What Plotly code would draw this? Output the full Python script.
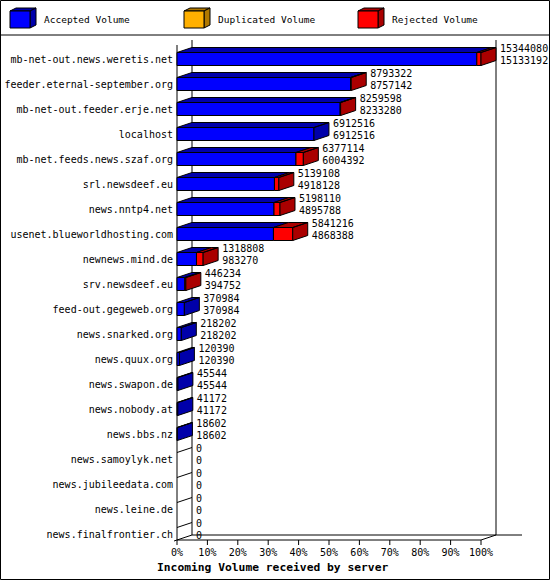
import plotly.graph_objects as go

# ---------------- data ----------------
servers = [
    "mb-net-out.news.weretis.net",
    "feeder.eternal-september.org",
    "mb-net-out.feeder.erje.net",
    "localhost",
    "mb-net.feeds.news.szaf.org",
    "srl.newsdeef.eu",
    "news.nntp4.net",
    "usenet.blueworldhosting.com",
    "newnews.mind.de",
    "srv.newsdeef.eu",
    "feed-out.gegeweb.org",
    "news.snarked.org",
    "news.quux.org",
    "news.swapon.de",
    "news.nobody.at",
    "news.bbs.nz",
    "news.samoylyk.net",
    "news.jubileedata.com",
    "news.leine.de",
    "news.finalfrontier.ch",
]
total_volume = [15344080, 8793322, 8259598, 6912516, 6377114, 5139108, 5198110,
                5841216, 1318808, 446234, 370984, 218202, 120390, 45544, 41172,
                18602, 0, 0, 0, 0]
accepted_volume = [15133192, 8757142, 8233280, 6912516, 6004392, 4918128, 4895788,
                   4868388, 983270, 394752, 370984, 218202, 120390, 45544, 41172,
                   18602, 0, 0, 0, 0]
duplicated_volume = [0, 0, 0, 0, 0, 0, 0, 0, 0, 0, 0, 0, 0, 0, 0, 0, 0, 0, 0, 0]

tick_pcts = [0, 10, 20, 30, 40, 50, 60, 70, 80, 90, 100]
tick_labels = ["0%", "10%", "20%", "30%", "40%", "50%", "60%", "70%", "80%", "90%", "100%"]

series_names = ["Accepted Volume", "Duplicated Volume", "Rejected Volume"]
front_colors = ["#0000FF", "#FFB000", "#FF0000"]
dark_colors = ["#0000AA", "#B07800", "#AA0000"]

axis_title = "Incoming Volume received by server"

# ---------------- geometry (pixels -> axis units) ----------------
W, H = 550, 580
PLOT_L, PLOT_R, PLOT_T, PLOT_B = 174, 540, 36, 545
X0_PX, PX_PER_PCT = 177, 3.04
ROW0_PX, ROW_PX = 59, 25
DEPTH_X_PX, DEPTH_Y_PX, BAR_H_PX = 15, 5, 13

x_range = [(PLOT_L - X0_PX) / PX_PER_PCT, (PLOT_R - X0_PX) / PX_PER_PCT]
y_range = [(PLOT_B - ROW0_PX) / ROW_PX, (PLOT_T - ROW0_PX) / ROW_PX]
DX = DEPTH_X_PX / PX_PER_PCT
DY = DEPTH_Y_PX / ROW_PX
HH = BAR_H_PX / 2 / ROW_PX
floor_front = (540 - ROW0_PX) / ROW_PX
floor_back = floor_front - DY
wall_top_back = (40 - ROW0_PX) / ROW_PX
wall_top_front = wall_top_back + DY
floor_right_end = (522 - X0_PX) / PX_PER_PCT

FONT = "DejaVu Sans Mono"

scale = 100.0 / max(total_volume)
rows = list(range(len(servers)))

bar_x = [[], [], []]
bar_base = [[], [], []]
face_x = [[], [], []]
face_y = [[], [], []]
zero_x, zero_y = [], []

for i in rows:
    a = accepted_volume[i] * scale
    d = duplicated_volume[i] * scale
    t = total_volume[i] * scale
    top = i - HH
    bot = i + HH
    segs = [(0.0, a), (a, a + d), (a + d, t)]
    last = None
    for k, (x0, x1) in enumerate(segs):
        if x1 - x0 > 0:
            bar_x[k].append(x1 - x0)
            bar_base[k].append(x0)
            face_x[k] += [x0, x1, x1 + DX, x0 + DX, x0, None]
            face_y[k] += [top, top, top - DY, top - DY, top, None]
            last = k
        else:
            bar_x[k].append(None)
            bar_base[k].append(None)
    if last is None:
        zero_x += [0, DX, None]
        zero_y += [top, top - DY, None]
    else:
        face_x[last] += [t, t + DX, t + DX, t, t, None]
        face_y[last] += [top, top - DY, bot - DY, bot, top, None]

fig = go.Figure()

for k in range(3):
    fig.add_trace(go.Bar(
        y=rows, x=bar_x[k], base=bar_base[k], orientation="h", width=2 * HH,
        marker=dict(color=front_colors[k], line=dict(color="black", width=1)),
        name=series_names[k], showlegend=False, hoverinfo="skip"))

for k in range(3):
    if face_x[k]:
        fig.add_trace(go.Scatter(
            x=face_x[k], y=face_y[k], mode="lines", fill="toself",
            fillcolor=dark_colors[k], line=dict(color="black", width=1),
            showlegend=False, hoverinfo="skip"))

fig.add_trace(go.Scatter(x=zero_x, y=zero_y, mode="lines",
                         line=dict(color="black", width=1),
                         showlegend=False, hoverinfo="skip"))

label_x = [v * scale + DX + 4.0 / PX_PER_PCT for v in total_volume]
fig.add_trace(go.Scatter(
    x=label_x, y=[i - 0.38 for i in rows], mode="text",
    text=[str(v) for v in total_volume], textposition="middle right",
    textfont=dict(family=FONT, size=10, color="black"), cliponaxis=False,
    showlegend=False, hoverinfo="skip"))
fig.add_trace(go.Scatter(
    x=label_x, y=[i + 0.08 for i in rows], mode="text",
    text=[str(v) for v in accepted_volume], textposition="middle right",
    textfont=dict(family=FONT, size=10, color="black"), cliponaxis=False,
    showlegend=False, hoverinfo="skip"))

# ---------------- frame lines (axis units) ----------------
shapes = []
line = dict(color="black", width=1)
shapes.append(dict(type="line", xref="x", yref="y", x0=DX, x1=DX,
                   y0=wall_top_back, y1=floor_back, line=line, layer="below"))
shapes.append(dict(type="line", xref="x", yref="y", x0=0, x1=0,
                   y0=wall_top_front, y1=floor_front, line=line, layer="below"))
shapes.append(dict(type="line", xref="x", yref="y", x0=100 + DX, x1=100 + DX,
                   y0=wall_top_back, y1=floor_back, line=line, layer="below"))
shapes.append(dict(type="line", xref="x", yref="y", x0=DX, x1=floor_right_end,
                   y0=floor_back, y1=floor_back, line=line, layer="below"))
shapes.append(dict(type="line", xref="x", yref="y", x0=0, x1=100,
                   y0=floor_front, y1=floor_front, line=line, layer="below"))
ext = x_range[0]
shapes.append(dict(type="line", xref="x", yref="y", x0=ext, x1=DX,
                   y0=floor_front - DY * ext / DX, y1=floor_back, line=line, layer="below"))
shapes.append(dict(type="line", xref="x", yref="y", x0=100, x1=100 + DX,
                   y0=floor_front, y1=floor_back, line=line, layer="below"))
for p in tick_pcts:
    shapes.append(dict(type="line", xref="x", yref="y", x0=p, x1=p,
                       y0=floor_front, y1=floor_front + 5.0 / ROW_PX, line=line,
                       layer="below"))

# ---------------- legend + border (paper units from pixels) ----------------
def pxx(x):
    return (x - PLOT_L) / (PLOT_R - PLOT_L)


def pxy(y):
    return (PLOT_B - y) / (PLOT_B - PLOT_T)


def path(pts):
    return "M " + " L ".join(f"{pxx(x)},{pxy(y)}" for x, y in pts) + " Z"


shapes.append(dict(type="rect", xref="paper", yref="paper",
                   x0=pxx(0.5), x1=pxx(549.5), y0=pxy(0.5), y1=pxy(579.5),
                   line=dict(color="black", width=1)))
shapes.append(dict(type="line", xref="paper", yref="paper",
                   x0=pxx(0), x1=pxx(550), y0=pxy(35), y1=pxy(35),
                   line=dict(color="black", width=1)))

annotations = []
legend_x = [10, 184, 358]
for k in range(3):
    lx = legend_x[k]
    shapes.append(dict(type="path", xref="paper", yref="paper",
                       path=path([(lx, 11), (lx + 20, 11), (lx + 26, 8), (lx + 6, 8)]),
                       fillcolor=dark_colors[k], line=dict(color="black", width=1)))
    shapes.append(dict(type="path", xref="paper", yref="paper",
                       path=path([(lx + 20, 11), (lx + 26, 8), (lx + 26, 25), (lx + 20, 28)]),
                       fillcolor=dark_colors[k], line=dict(color="black", width=1)))
    shapes.append(dict(type="rect", xref="paper", yref="paper",
                       x0=pxx(lx), x1=pxx(lx + 20), y0=pxy(28), y1=pxy(11),
                       fillcolor=front_colors[k], line=dict(color="black", width=1)))
    annotations.append(dict(xref="paper", yref="paper", x=pxx(lx + 32), y=pxy(20),
                            text=series_names[k], showarrow=False, xanchor="left",
                            yanchor="middle",
                            font=dict(family=FONT, size=9.5, color="black")))

annotations.append(dict(xref="paper", yref="paper", x=pxx(155), y=pxy(567),
                        text=axis_title, showarrow=False, xanchor="left",
                        yanchor="middle",
                        font=dict(family=FONT, size=11.3, color="black", weight="bold")))

fig.update_layout(
    width=W, height=H,
    margin=dict(l=PLOT_L, r=W - PLOT_R, t=PLOT_T, b=H - PLOT_B, pad=0, autoexpand=False),
    paper_bgcolor="white", plot_bgcolor="white",
    barmode="overlay", showlegend=False,
    shapes=shapes, annotations=annotations,
    xaxis=dict(range=x_range, tickvals=tick_pcts, ticktext=tick_labels,
               showgrid=False, zeroline=False, showline=False, ticks="",
               tickfont=dict(family=FONT, size=10, color="black"),
               automargin=False, fixedrange=True),
    yaxis=dict(range=y_range, tickvals=rows, ticktext=servers,
               showgrid=False, zeroline=False, showline=False, ticks="",
               tickfont=dict(family=FONT, size=10, color="black"),
               automargin=False, fixedrange=True),
)

fig.write_html("out.html", config={"displayModeBar": False},
               post_script="document.body.style.margin='0';document.body.style.padding='0';")
